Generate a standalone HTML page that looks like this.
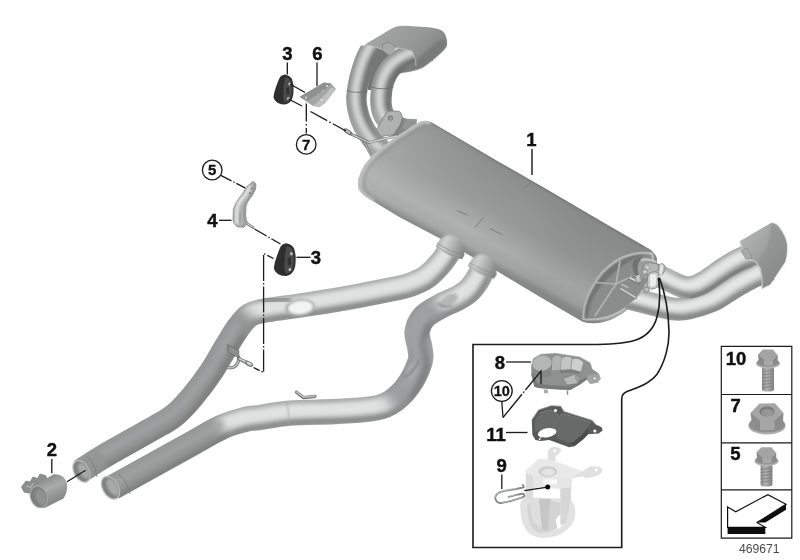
<!DOCTYPE html>
<html><head><meta charset="utf-8"><title>Exhaust system</title>
<style>html,body{margin:0;padding:0;background:#fff}svg{display:block}text{font-family:"Liberation Sans",sans-serif}</style>
</head><body>
<svg width="800" height="560" viewBox="0 0 800 560">
<defs>
<filter id="b1" x="-20%" y="-20%" width="140%" height="140%"><feGaussianBlur stdDeviation="0.8"/></filter>
<filter id="b2" x="-20%" y="-20%" width="140%" height="140%"><feGaussianBlur stdDeviation="2.2"/></filter>
<filter id="soft" x="-2%" y="-2%" width="104%" height="104%"><feGaussianBlur stdDeviation="0.45"/></filter>
<linearGradient id="gMuf" gradientUnits="userSpaceOnUse" x1="425" y1="121" x2="379.4" y2="204.2">
<stop offset="0" stop-color="#878989"/><stop offset="0.1" stop-color="#8d8f8f"/><stop offset="0.5" stop-color="#999b9b"/><stop offset="0.78" stop-color="#b1b3b3"/><stop offset="0.92" stop-color="#a8aaaa"/><stop offset="1" stop-color="#878989"/></linearGradient>
<linearGradient id="gMufL" gradientUnits="userSpaceOnUse" x1="380" y1="150" x2="640" y2="295">
<stop offset="0" stop-color="#b4b6b6" stop-opacity="0.45"/><stop offset="0.35" stop-color="#a0a2a2" stop-opacity="0.1"/><stop offset="0.7" stop-color="#7c7e7e" stop-opacity="0.25"/><stop offset="1" stop-color="#7c7e7e" stop-opacity="0.3"/></linearGradient>
<filter id="b4" x="-10%" y="-10%" width="120%" height="120%"><feGaussianBlur stdDeviation="6"/></filter>
<filter id="b3" x="-30%" y="-30%" width="160%" height="160%"><feGaussianBlur stdDeviation="5"/></filter>
<linearGradient id="gFl" gradientUnits="userSpaceOnUse" x1="235" y1="130" x2="400" y2="205">
<stop offset="0" stop-color="#b4b6b6"/><stop offset="0.25" stop-color="#cfd1d1"/><stop offset="0.6" stop-color="#acaeae"/><stop offset="1" stop-color="#828484"/></linearGradient>
<linearGradient id="gTip" gradientUnits="userSpaceOnUse" x1="385" y1="30" x2="425" y2="70">
<stop offset="0" stop-color="#a2a4a4"/><stop offset="0.6" stop-color="#939595"/><stop offset="1" stop-color="#7f8181"/></linearGradient>
<linearGradient id="gRTip" gradientUnits="userSpaceOnUse" x1="745" y1="235" x2="785" y2="270">
<stop offset="0" stop-color="#b0b2b2"/><stop offset="0.6" stop-color="#9a9c9c"/><stop offset="1" stop-color="#858787"/></linearGradient>
<linearGradient id="gClamp" gradientUnits="userSpaceOnUse" x1="45" y1="478" x2="58" y2="506">
<stop offset="0" stop-color="#8a8c8c"/><stop offset="0.35" stop-color="#a9abab"/><stop offset="1" stop-color="#7a7c7c"/></linearGradient>
<linearGradient id="gShaft" x1="0" y1="0" x2="1" y2="0">
<stop offset="0" stop-color="#8a8a8a"/><stop offset="0.4" stop-color="#b0b0b0"/><stop offset="1" stop-color="#838383"/></linearGradient>
<clipPath id="cTop"><path d="M364.5 45.5 L398 26 L470 26 L470 170 L330 170 L330 45.5Z"/></clipPath>
<mask id="m1" maskUnits="userSpaceOnUse" x="0" y="0" width="800" height="560"><path d="M432.0 50.0 C430.0 50.2 423.8 50.7 420.0 51.5 C416.2 52.3 412.5 53.5 409.0 55.0 C405.5 56.5 402.0 58.4 399.0 60.5 C396.0 62.6 393.2 64.8 391.0 67.5 C388.8 70.2 386.9 73.4 385.5 76.5 C384.1 79.6 383.1 82.6 382.3 86.0 C381.6 89.4 381.2 94.0 381.0 97.0 C380.8 100.0 380.8 101.5 381.0 104.0 C381.2 106.5 381.6 109.5 382.5 112.0 C383.4 114.5 384.8 116.8 386.5 119.0 C388.2 121.2 390.1 123.3 393.0 125.0 C395.9 126.7 400.2 128.2 404.0 129.0 C407.8 129.8 414.0 129.8 416.0 130.0" fill="none" stroke="#fff" stroke-width="21.5" stroke-linecap="butt" stroke-linejoin="round"/></mask>
<mask id="m2" maskUnits="userSpaceOnUse" x="0" y="0" width="800" height="560"><path d="M384.0 30.0 C382.5 32.0 378.0 37.3 375.0 42.0 C372.0 46.7 368.6 52.0 366.0 58.0 C363.4 64.0 361.1 71.7 359.5 78.0 C357.9 84.3 356.9 91.0 356.5 96.0 C356.1 101.0 356.6 103.8 357.3 108.0 C358.1 112.2 359.4 116.9 361.0 121.0 C362.6 125.1 364.8 129.0 367.0 132.5 C369.2 136.0 370.8 138.6 374.0 142.0 C377.2 145.4 384.0 151.2 386.0 153.0" fill="none" stroke="#fff" stroke-width="20.5" stroke-linecap="butt" stroke-linejoin="round"/></mask>
<clipPath id="cm"><path d="M431 122 L500 162.5 L548 190 L600 220.5 L645 246.5 Q654 250 657 258 Q658 270 647 289 Q634 309 612 319.5 Q596 326 583 322 L540 297 L495 270 L440 238.5 L400 217.5 L374 201.8 Q362.5 196 359 190 Q356 182 361 171.5 Q366 160.5 378 150.5 Q391 139.5 408 129 Q418 121.5 424.5 120.8 Q428 120.5 431 122 Z"/></clipPath>
<mask id="m3" maskUnits="userSpaceOnUse" x="0" y="0" width="800" height="560"><path d="M453.5 244.5 C451.6 247.4 446.3 256.4 441.8 261.8 C437.3 267.2 432.1 273.1 426.5 277.0 C420.9 280.9 414.4 283.3 408.0 285.5 C401.6 287.7 398.7 287.8 388.0 290.0 C377.3 292.2 358.7 295.9 344.0 298.5 C329.3 301.1 312.7 303.6 300.0 305.5 C287.3 307.4 276.3 308.4 268.0 310.0 C259.7 311.6 255.0 312.0 250.0 315.0 C245.0 318.0 242.0 322.7 238.0 328.0 C234.0 333.3 230.5 339.7 226.0 347.0 C221.5 354.3 216.5 363.8 211.0 372.0 C205.5 380.2 198.8 389.0 193.0 396.0 C187.2 403.0 181.5 409.2 176.0 414.0 C170.5 418.8 171.7 417.7 160.0 424.5 C148.3 431.3 119.2 447.2 106.0 455.0 C92.8 462.8 84.8 468.5 80.5 471.2" fill="none" stroke="#fff" stroke-width="24.5" stroke-linecap="butt" stroke-linejoin="round"/></mask>
<mask id="m4" maskUnits="userSpaceOnUse" x="0" y="0" width="800" height="560"><path d="M484.5 265.0 C483.6 267.0 481.4 272.9 479.0 277.0 C476.6 281.1 473.5 286.0 470.0 289.5 C466.5 293.0 463.0 295.2 458.0 298.0 C453.0 300.8 445.7 303.3 440.0 306.5 C434.3 309.7 427.8 312.8 424.0 317.0 C420.2 321.2 417.7 326.8 417.0 332.0 C416.3 337.2 419.5 343.5 420.0 348.5 C420.5 353.5 422.0 355.8 420.0 362.0 C418.0 368.2 413.0 379.2 408.0 386.0 C403.0 392.8 396.3 399.2 390.0 403.0 C383.7 406.8 379.2 407.6 370.0 409.0 C360.8 410.4 348.3 410.8 335.0 411.5 C321.7 412.2 302.5 412.2 290.0 413.2 C277.5 414.2 267.5 416.4 260.0 417.5 C252.5 418.6 251.5 417.8 245.0 419.5 C238.5 421.2 230.6 423.1 221.0 427.5 C211.4 431.9 205.6 436.0 187.5 446.0 C169.4 456.0 125.0 480.6 112.5 487.5" fill="none" stroke="#fff" stroke-width="25.3" stroke-linecap="butt" stroke-linejoin="round"/></mask>
<clipPath id="cRL"><path d="M643.5 292 L624.5 308 L624.5 340 L800 340 L800 200 L643.5 200Z"/></clipPath>
<mask id="m5" maskUnits="userSpaceOnUse" x="0" y="0" width="800" height="560"><path d="M618.0 295.3 C621.0 296.1 629.5 298.1 636.0 299.8 C642.5 301.5 650.9 303.8 657.0 305.3 C663.1 306.8 667.9 308.2 672.4 308.8 C676.9 309.4 680.2 309.2 684.0 308.8 C687.8 308.4 690.0 307.8 695.0 306.3 C700.0 304.8 707.5 303.0 714.0 299.8 C720.5 296.6 727.5 291.1 734.0 287.3 C740.5 283.5 747.0 279.8 753.0 276.8 C759.0 273.8 767.2 270.6 770.0 269.3" fill="none" stroke="#fff" stroke-width="23.0" stroke-linecap="butt" stroke-linejoin="round"/></mask>
<mask id="m6" maskUnits="userSpaceOnUse" x="0" y="0" width="800" height="560"><path d="M651.0 273.1 C653.2 273.9 660.3 276.5 664.0 278.1 C667.7 279.7 669.7 281.1 673.0 282.6 C676.3 284.1 680.5 286.4 684.0 287.1 C687.5 287.8 690.7 287.4 694.0 286.6 C697.3 285.8 698.7 285.4 704.0 282.1 C709.3 278.9 719.8 271.0 726.0 267.1 C732.2 263.2 735.0 261.2 741.0 258.6 C747.0 256.0 758.5 252.8 762.0 251.6" fill="none" stroke="#fff" stroke-width="22.5" stroke-linecap="butt" stroke-linejoin="round"/></mask></defs>
<rect width="800" height="560" fill="#fff"/>
<g filter="url(#soft)">
<path d="M372 48 L392 44 L392 58 L381 66 L376.5 90 L367.5 90 L369.4 76Z" fill="#747676"/>
<path d="M404 50 L414 50 L418.5 66.5 L406 68Z" fill="#6c6e6e"/>
<g clip-path="url(#cTop)">
<g mask="url(#m1)"><path d="M432.0 50.0 C430.0 50.2 423.8 50.7 420.0 51.5 C416.2 52.3 412.5 53.5 409.0 55.0 C405.5 56.5 402.0 58.4 399.0 60.5 C396.0 62.6 393.2 64.8 391.0 67.5 C388.8 70.2 386.9 73.4 385.5 76.5 C384.1 79.6 383.1 82.6 382.3 86.0 C381.6 89.4 381.2 94.0 381.0 97.0 C380.8 100.0 380.8 101.5 381.0 104.0 C381.2 106.5 381.6 109.5 382.5 112.0 C383.4 114.5 384.8 116.8 386.5 119.0 C388.2 121.2 390.1 123.3 393.0 125.0 C395.9 126.7 400.2 128.2 404.0 129.0 C407.8 129.8 414.0 129.8 416.0 130.0" fill="none" stroke="#a2a4a4" stroke-width="23.5" stroke-linecap="butt" stroke-linejoin="round"/><g filter="url(#b2)"><path d="M432.0 50.0 C430.0 50.2 423.8 50.7 420.0 51.5 C416.2 52.3 412.5 53.5 409.0 55.0 C405.5 56.5 402.0 58.4 399.0 60.5 C396.0 62.6 393.2 64.8 391.0 67.5 C388.8 70.2 386.9 73.4 385.5 76.5 C384.1 79.6 383.1 82.6 382.3 86.0 C381.6 89.4 381.2 94.0 381.0 97.0 C380.8 100.0 380.8 101.5 381.0 104.0 C381.2 106.5 381.6 109.5 382.5 112.0 C383.4 114.5 384.8 116.8 386.5 119.0 C388.2 121.2 390.1 123.3 393.0 125.0 C395.9 126.7 400.2 128.2 404.0 129.0 C407.8 129.8 414.0 129.8 416.0 130.0" fill="none" stroke="#727474" stroke-width="10.3" transform="translate(6.19 4.64)" stroke-linejoin="round"/><path d="M432.0 50.0 C430.0 50.2 423.8 50.7 420.0 51.5 C416.2 52.3 412.5 53.5 409.0 55.0 C405.5 56.5 402.0 58.4 399.0 60.5 C396.0 62.6 393.2 64.8 391.0 67.5 C388.8 70.2 386.9 73.4 385.5 76.5 C384.1 79.6 383.1 82.6 382.3 86.0 C381.6 89.4 381.2 94.0 381.0 97.0 C380.8 100.0 380.8 101.5 381.0 104.0 C381.2 106.5 381.6 109.5 382.5 112.0 C383.4 114.5 384.8 116.8 386.5 119.0 C388.2 121.2 390.1 123.3 393.0 125.0 C395.9 126.7 400.2 128.2 404.0 129.0 C407.8 129.8 414.0 129.8 416.0 130.0" fill="none" stroke="#8a8c8c" stroke-width="4.7" transform="translate(-8.60 -6.45)" stroke-linejoin="round"/><path d="M432.0 50.0 C430.0 50.2 423.8 50.7 420.0 51.5 C416.2 52.3 412.5 53.5 409.0 55.0 C405.5 56.5 402.0 58.4 399.0 60.5 C396.0 62.6 393.2 64.8 391.0 67.5 C388.8 70.2 386.9 73.4 385.5 76.5 C384.1 79.6 383.1 82.6 382.3 86.0 C381.6 89.4 381.2 94.0 381.0 97.0 C380.8 100.0 380.8 101.5 381.0 104.0 C381.2 106.5 381.6 109.5 382.5 112.0 C383.4 114.5 384.8 116.8 386.5 119.0 C388.2 121.2 390.1 123.3 393.0 125.0 C395.9 126.7 400.2 128.2 404.0 129.0 C407.8 129.8 414.0 129.8 416.0 130.0" fill="none" stroke="#d4d6d6" stroke-width="7.7" transform="translate(-1.38 -1.03)" stroke-linejoin="round"/></g><g filter="url(#b4)"><path d="M386.5 119.0 C387.6 120.0 390.1 123.3 393.0 125.0 C395.9 126.7 400.2 128.2 404.0 129.0 C407.8 129.8 411.3 129.6 416.0 130.0 C420.7 130.4 429.3 131.1 431.9 131.3" fill="none" stroke="#8c8e8e" stroke-width="27.9" opacity="0.90" stroke-linecap="butt"/></g><g filter="url(#b2)"><path d="M393.0 125.0 C394.8 125.7 402.2 128.3 404.0 129.0" fill="none" stroke="#a2a4a4" stroke-width="6.5" opacity="0.72" stroke-linecap="round" transform="translate(-2.06 -1.55)"/><path d="M393.0 125.0 C394.8 125.7 402.2 128.3 404.0 129.0" fill="none" stroke="#787a7a" stroke-width="5.4" opacity="0.72" stroke-linecap="round" transform="translate(7.74 5.81)"/></g></g>
<g mask="url(#m2)"><path d="M384.0 30.0 C382.5 32.0 378.0 37.3 375.0 42.0 C372.0 46.7 368.6 52.0 366.0 58.0 C363.4 64.0 361.1 71.7 359.5 78.0 C357.9 84.3 356.9 91.0 356.5 96.0 C356.1 101.0 356.6 103.8 357.3 108.0 C358.1 112.2 359.4 116.9 361.0 121.0 C362.6 125.1 364.8 129.0 367.0 132.5 C369.2 136.0 370.8 138.6 374.0 142.0 C377.2 145.4 384.0 151.2 386.0 153.0" fill="none" stroke="#a2a4a4" stroke-width="22.5" stroke-linecap="butt" stroke-linejoin="round"/><g filter="url(#b2)"><path d="M384.0 30.0 C382.5 32.0 378.0 37.3 375.0 42.0 C372.0 46.7 368.6 52.0 366.0 58.0 C363.4 64.0 361.1 71.7 359.5 78.0 C357.9 84.3 356.9 91.0 356.5 96.0 C356.1 101.0 356.6 103.8 357.3 108.0 C358.1 112.2 359.4 116.9 361.0 121.0 C362.6 125.1 364.8 129.0 367.0 132.5 C369.2 136.0 370.8 138.6 374.0 142.0 C377.2 145.4 384.0 151.2 386.0 153.0" fill="none" stroke="#727474" stroke-width="9.8" transform="translate(5.90 4.43)" stroke-linejoin="round"/><path d="M384.0 30.0 C382.5 32.0 378.0 37.3 375.0 42.0 C372.0 46.7 368.6 52.0 366.0 58.0 C363.4 64.0 361.1 71.7 359.5 78.0 C357.9 84.3 356.9 91.0 356.5 96.0 C356.1 101.0 356.6 103.8 357.3 108.0 C358.1 112.2 359.4 116.9 361.0 121.0 C362.6 125.1 364.8 129.0 367.0 132.5 C369.2 136.0 370.8 138.6 374.0 142.0 C377.2 145.4 384.0 151.2 386.0 153.0" fill="none" stroke="#8a8c8c" stroke-width="4.5" transform="translate(-8.20 -6.15)" stroke-linejoin="round"/><path d="M384.0 30.0 C382.5 32.0 378.0 37.3 375.0 42.0 C372.0 46.7 368.6 52.0 366.0 58.0 C363.4 64.0 361.1 71.7 359.5 78.0 C357.9 84.3 356.9 91.0 356.5 96.0 C356.1 101.0 356.6 103.8 357.3 108.0 C358.1 112.2 359.4 116.9 361.0 121.0 C362.6 125.1 364.8 129.0 367.0 132.5 C369.2 136.0 370.8 138.6 374.0 142.0 C377.2 145.4 384.0 151.2 386.0 153.0" fill="none" stroke="#d4d6d6" stroke-width="7.4" transform="translate(-1.31 -0.98)" stroke-linejoin="round"/></g></g>
</g>
<path d="M392.5 80 Q394 74 399 69 Q406 63 416 58 L418.5 66.5 L412 71 L403 72.5 Q397 74 394.5 80Z" fill="#6e7070"/>
<path d="M346.8 90.5 Q356 94 367 91" stroke="#6a6c6c" stroke-width="0.8" fill="none"/>
<path d="M371.4 87 Q382 90.5 393.5 87" stroke="#6a6c6c" stroke-width="0.8" fill="none"/>
<path d="M365.0 44.5 C367.7 42.9 375.6 38.0 381.0 35.0 C386.4 32.0 391.7 27.7 397.5 26.3 C403.3 24.9 409.8 26.2 416.0 26.5 C422.2 26.8 430.4 27.3 435.0 28.2 C439.6 29.1 441.6 30.2 443.5 32.0 C445.4 33.8 446.1 36.4 446.5 39.0 C446.9 41.6 447.9 44.3 446.0 47.5 C444.1 50.7 438.9 54.7 435.0 58.0 C431.1 61.3 426.3 65.3 422.5 67.5 C418.7 69.7 415.2 70.2 412.0 71.0 C408.8 71.8 404.5 72.2 403.0 72.5 L415.8 60.8 L412.0 51.0 L404.0 49.0 L396.5 47.6 L391.0 53.8 L387.8 53.8 L382.5 49.4 L372.0 46.0Z" fill="url(#gTip)"/>
<path d="M446.5 39 Q446.5 47 435 58 L422.5 67.5 L403 72.5 L405 66 L416 60 L438 41 Z" fill="#777979" opacity="0.9" filter="url(#b1)"/>
<path d="M382.5 49.4 L382.5 44 L389.5 42.4 L396.5 47.6 L391 53.75 L387.75 53.75Z" fill="#a7a9a9" stroke="#7a7c7c" stroke-width="0.6"/>
<path d="M365 44.5 L372 46 L382.5 49.4 L387.75 53.75 L391 53.75 L396.5 47.6 L404 49 L412 51 L415.75 60.75 L416 66" fill="none" stroke="#bcbebe" stroke-width="0.9"/>
<path d="M376.4 130 L386.5 112.5 Q388 111 390 111 L399 111.2 Q401.5 112 402.6 117.6 L400 125 L393.5 134.5 L381 136.5 Z" fill="#b0b2b2" stroke="#7b7d7d" stroke-width="0.8"/>
<path d="M393.5 134.5 L400 125 L402.6 117.6 L405 119 L403 127 L396 137 Z" fill="#838585"/>
<circle cx="390.5" cy="118" r="2.6" fill="#7a7c7c"/><circle cx="390.8" cy="118.3" r="1.6" fill="#9c9e9e"/>
<path d="M362 138 L372 157" fill="none" stroke="#6e7070" stroke-width="2.4"/><path d="M362 138 L372 157" fill="none" stroke="#c8caca" stroke-width="1"/>
<path d="M346.5 131 L352 134.5 L369 142.5 L390 137.5 L397 136" fill="none" stroke="#666868" stroke-width="2.8" stroke-linejoin="round" stroke-linecap="round"/>
<path d="M346.5 131 L352 134.5 L369 142.5 L390 137.5 L397 136" fill="none" stroke="#d4d6d6" stroke-width="1.3" stroke-linejoin="round" stroke-linecap="round"/>
<path d="M345.5 130.3 L350 133.2" stroke="#666868" stroke-width="4" stroke-linecap="round"/><path d="M345.8 130.3 L349.6 132.8" stroke="#c4c6c6" stroke-width="2" stroke-linecap="round"/>
<g clip-path="url(#cm)"><path d="M431 122 L500 162.5 L548 190 L600 220.5 L645 246.5 Q654 250 657 258 Q658 270 647 289 Q634 309 612 319.5 Q596 326 583 322 L540 297 L495 270 L440 238.5 L400 217.5 L374 201.8 Q362.5 196 359 190 Q356 182 361 171.5 Q366 160.5 378 150.5 Q391 139.5 408 129 Q418 121.5 424.5 120.8 Q428 120.5 431 122 Z" fill="url(#gMuf)"/>
<path d="M431 122 L500 162.5 L548 190 L600 220.5 L645 246.5 Q654 250 657 258 Q658 270 647 289 Q634 309 612 319.5 Q596 326 583 322 L540 297 L495 270 L440 238.5 L400 217.5 L374 201.8 Q362.5 196 359 190 Q356 182 361 171.5 Q366 160.5 378 150.5 Q391 139.5 408 129 Q418 121.5 424.5 120.8 Q428 120.5 431 122 Z" fill="url(#gMufL)"/>
<path d="M431 122 Q428 120.5 424.5 120.8 Q418 121.5 408 129 Q391 139.5 378 150.5 Q366 160.5 361 171.5 Q356 182 359 190 Q362.5 196 374 201.8" fill="none" stroke="#bfc1c1" stroke-width="6" filter="url(#b1)"/>
<path d="M434 125 Q424 125 414 132 Q396 143 382 154.5 Q371 163.5 366.5 173 Q362.5 183 365 190 Q368.5 195.5 378 200" fill="none" stroke="#858787" stroke-width="1.1" opacity="0.75" filter="url(#b1)"/>
<path d="M432 122 L500 162.5 L548 190 L600 220.5 L645 246.5" fill="none" stroke="#747676" stroke-width="2.6" filter="url(#b1)"/>
<path d="M374 201.8 L400 217.5 L440 238.5 L495 270 L540 297 L584 321.5" fill="none" stroke="#868888" stroke-width="3.5" filter="url(#b2)"/>
<path d="M582.5 320 Q581 298 601.5 271.5 Q624 248 653 252.5 Q659 275 637 301 Q612 324 582.5 320 Z" fill="#b9bbbb"/>
<path d="M584.8 318.3 Q584 298 603.5 273.5 Q625 251.5 651 255 Q655.5 275 635 299 Q611 321 584.8 318.3 Z" fill="#8b8d8d"/>
<path d="M584.8 318.3 Q584 298 603.5 273.5 Q625 251.5 651 255 Q640 256 628 262 Q606 276 594 296 Q588 308 588 318 Z" fill="#717373" filter="url(#b1)"/>
<path d="M594.7 316.2 L616 284 L620 261" fill="none" stroke="#b0b2b2" stroke-width="1.8"/>
<path d="M595.6 282.5 L616 284 L632 276" fill="none" stroke="#b0b2b2" stroke-width="1.6"/>
</g>
<g stroke="#7c7e7e" stroke-width="1" fill="none"><path d="M457 210.7 L467.7 215.2"/><path d="M474.8 227.7 L483.7 217"/><path d="M490 228.6 L502.5 234.8"/><path d="M524.8 187.5 L531 183"/></g>
<g mask="url(#m3)"><path d="M453.5 244.5 C451.6 247.4 446.3 256.4 441.8 261.8 C437.3 267.2 432.1 273.1 426.5 277.0 C420.9 280.9 414.4 283.3 408.0 285.5 C401.6 287.7 398.7 287.8 388.0 290.0 C377.3 292.2 358.7 295.9 344.0 298.5 C329.3 301.1 312.7 303.6 300.0 305.5 C287.3 307.4 276.3 308.4 268.0 310.0 C259.7 311.6 255.0 312.0 250.0 315.0 C245.0 318.0 242.0 322.7 238.0 328.0 C234.0 333.3 230.5 339.7 226.0 347.0 C221.5 354.3 216.5 363.8 211.0 372.0 C205.5 380.2 198.8 389.0 193.0 396.0 C187.2 403.0 181.5 409.2 176.0 414.0 C170.5 418.8 171.7 417.7 160.0 424.5 C148.3 431.3 119.2 447.2 106.0 455.0 C92.8 462.8 84.8 468.5 80.5 471.2" fill="none" stroke="#c4c6c6" stroke-width="26.5" stroke-linecap="butt" stroke-linejoin="round"/><g filter="url(#b2)"><path d="M453.5 244.5 C451.6 247.4 446.3 256.4 441.8 261.8 C437.3 267.2 432.1 273.1 426.5 277.0 C420.9 280.9 414.4 283.3 408.0 285.5 C401.6 287.7 398.7 287.8 388.0 290.0 C377.3 292.2 358.7 295.9 344.0 298.5 C329.3 301.1 312.7 303.6 300.0 305.5 C287.3 307.4 276.3 308.4 268.0 310.0 C259.7 311.6 255.0 312.0 250.0 315.0 C245.0 318.0 242.0 322.7 238.0 328.0 C234.0 333.3 230.5 339.7 226.0 347.0 C221.5 354.3 216.5 363.8 211.0 372.0 C205.5 380.2 198.8 389.0 193.0 396.0 C187.2 403.0 181.5 409.2 176.0 414.0 C170.5 418.8 171.7 417.7 160.0 424.5 C148.3 431.3 119.2 447.2 106.0 455.0 C92.8 462.8 84.8 468.5 80.5 471.2" fill="none" stroke="#8a8c8c" stroke-width="7.8" transform="translate(4.63 9.26)" stroke-linejoin="round"/><path d="M453.5 244.5 C451.6 247.4 446.3 256.4 441.8 261.8 C437.3 267.2 432.1 273.1 426.5 277.0 C420.9 280.9 414.4 283.3 408.0 285.5 C401.6 287.7 398.7 287.8 388.0 290.0 C377.3 292.2 358.7 295.9 344.0 298.5 C329.3 301.1 312.7 303.6 300.0 305.5 C287.3 307.4 276.3 308.4 268.0 310.0 C259.7 311.6 255.0 312.0 250.0 315.0 C245.0 318.0 242.0 322.7 238.0 328.0 C234.0 333.3 230.5 339.7 226.0 347.0 C221.5 354.3 216.5 363.8 211.0 372.0 C205.5 380.2 198.8 389.0 193.0 396.0 C187.2 403.0 181.5 409.2 176.0 414.0 C170.5 418.8 171.7 417.7 160.0 424.5 C148.3 431.3 119.2 447.2 106.0 455.0 C92.8 462.8 84.8 468.5 80.5 471.2" fill="none" stroke="#a4a6a6" stroke-width="5.4" transform="translate(-5.51 -11.03)" stroke-linejoin="round"/><path d="M453.5 244.5 C451.6 247.4 446.3 256.4 441.8 261.8 C437.3 267.2 432.1 273.1 426.5 277.0 C420.9 280.9 414.4 283.3 408.0 285.5 C401.6 287.7 398.7 287.8 388.0 290.0 C377.3 292.2 358.7 295.9 344.0 298.5 C329.3 301.1 312.7 303.6 300.0 305.5 C287.3 307.4 276.3 308.4 268.0 310.0 C259.7 311.6 255.0 312.0 250.0 315.0 C245.0 318.0 242.0 322.7 238.0 328.0 C234.0 333.3 230.5 339.7 226.0 347.0 C221.5 354.3 216.5 363.8 211.0 372.0 C205.5 380.2 198.8 389.0 193.0 396.0 C187.2 403.0 181.5 409.2 176.0 414.0 C170.5 418.8 171.7 417.7 160.0 424.5 C148.3 431.3 119.2 447.2 106.0 455.0 C92.8 462.8 84.8 468.5 80.5 471.2" fill="none" stroke="#e0e2e2" stroke-width="12.2" transform="translate(-1.10 -2.21)" stroke-linejoin="round"/></g><g filter="url(#b4)"><path d="M250.0 315.0 C248.0 317.2 242.0 322.7 238.0 328.0 C234.0 333.3 230.5 339.7 226.0 347.0 C221.5 354.3 216.5 363.8 211.0 372.0 C205.5 380.2 198.8 389.0 193.0 396.0 C187.2 403.0 181.5 409.2 176.0 414.0 C170.5 418.8 171.7 417.7 160.0 424.5 C148.3 431.3 119.2 447.2 106.0 455.0 C92.8 462.8 87.0 467.1 80.5 471.2 C74.0 475.3 69.2 478.3 67.0 479.8" fill="none" stroke="#8c8e8e" stroke-width="31.9" opacity="0.92" stroke-linecap="butt"/></g><g filter="url(#b2)"><path d="M238.0 328.0 C236.0 331.2 230.5 339.7 226.0 347.0 C221.5 354.3 216.5 363.8 211.0 372.0 C205.5 380.2 198.8 389.0 193.0 396.0 C187.2 403.0 181.5 409.2 176.0 414.0 C170.5 418.8 171.7 417.7 160.0 424.5 C148.3 431.3 115.0 449.9 106.0 455.0" fill="none" stroke="#a2a4a4" stroke-width="7.3" opacity="0.74" stroke-linecap="round" transform="translate(-1.32 -2.65)"/><path d="M238.0 328.0 C236.0 331.2 230.5 339.7 226.0 347.0 C221.5 354.3 216.5 363.8 211.0 372.0 C205.5 380.2 198.8 389.0 193.0 396.0 C187.2 403.0 181.5 409.2 176.0 414.0 C170.5 418.8 171.7 417.7 160.0 424.5 C148.3 431.3 115.0 449.9 106.0 455.0" fill="none" stroke="#787a7a" stroke-width="6.1" opacity="0.74" stroke-linecap="round" transform="translate(4.96 9.92)"/></g><path d="M262 301 Q276 298 291 299.5" fill="none" stroke="#8e9090" stroke-width="9" filter="url(#b2)" opacity="0.9"/><ellipse cx="300" cy="307.5" rx="15" ry="8.5" fill="#a9abab" transform="rotate(-6 300 307.5)" filter="url(#b1)"/><ellipse cx="300.5" cy="307.5" rx="12.5" ry="6.8" fill="#f2f3f3" transform="rotate(-6 300 307.5)" filter="url(#b1)"/></g>
<g transform="translate(400 220) scale(0.16064) translate(0 0)"><path d="M222 168 Q230 140 250 120 Q275 95 310 90 Q345 92 368 120 Q392 160 402 218 L386 244 Q300 232 222 168Z" fill="url(#gFl)"/><path d="M250 120 Q275 95 310 90 Q345 92 368 120" fill="none" stroke="#a9abab" stroke-width="10" filter="url(#b3)"/><path d="M234 148 Q300 190 397 222" fill="none" stroke="#7f8181" stroke-width="4"/><path d="M226 162 Q300 215 389 240" fill="none" stroke="#8a8c8c" stroke-width="4"/></g>
<g mask="url(#m4)"><path d="M484.5 265.0 C483.6 267.0 481.4 272.9 479.0 277.0 C476.6 281.1 473.5 286.0 470.0 289.5 C466.5 293.0 463.0 295.2 458.0 298.0 C453.0 300.8 445.7 303.3 440.0 306.5 C434.3 309.7 427.8 312.8 424.0 317.0 C420.2 321.2 417.7 326.8 417.0 332.0 C416.3 337.2 419.5 343.5 420.0 348.5 C420.5 353.5 422.0 355.8 420.0 362.0 C418.0 368.2 413.0 379.2 408.0 386.0 C403.0 392.8 396.3 399.2 390.0 403.0 C383.7 406.8 379.2 407.6 370.0 409.0 C360.8 410.4 348.3 410.8 335.0 411.5 C321.7 412.2 302.5 412.2 290.0 413.2 C277.5 414.2 267.5 416.4 260.0 417.5 C252.5 418.6 251.5 417.8 245.0 419.5 C238.5 421.2 230.6 423.1 221.0 427.5 C211.4 431.9 205.6 436.0 187.5 446.0 C169.4 456.0 125.0 480.6 112.5 487.5" fill="none" stroke="#c4c6c6" stroke-width="27.3" stroke-linecap="butt" stroke-linejoin="round"/><g filter="url(#b2)"><path d="M484.5 265.0 C483.6 267.0 481.4 272.9 479.0 277.0 C476.6 281.1 473.5 286.0 470.0 289.5 C466.5 293.0 463.0 295.2 458.0 298.0 C453.0 300.8 445.7 303.3 440.0 306.5 C434.3 309.7 427.8 312.8 424.0 317.0 C420.2 321.2 417.7 326.8 417.0 332.0 C416.3 337.2 419.5 343.5 420.0 348.5 C420.5 353.5 422.0 355.8 420.0 362.0 C418.0 368.2 413.0 379.2 408.0 386.0 C403.0 392.8 396.3 399.2 390.0 403.0 C383.7 406.8 379.2 407.6 370.0 409.0 C360.8 410.4 348.3 410.8 335.0 411.5 C321.7 412.2 302.5 412.2 290.0 413.2 C277.5 414.2 267.5 416.4 260.0 417.5 C252.5 418.6 251.5 417.8 245.0 419.5 C238.5 421.2 230.6 423.1 221.0 427.5 C211.4 431.9 205.6 436.0 187.5 446.0 C169.4 456.0 125.0 480.6 112.5 487.5" fill="none" stroke="#8a8c8c" stroke-width="8.1" transform="translate(4.78 9.56)" stroke-linejoin="round"/><path d="M484.5 265.0 C483.6 267.0 481.4 272.9 479.0 277.0 C476.6 281.1 473.5 286.0 470.0 289.5 C466.5 293.0 463.0 295.2 458.0 298.0 C453.0 300.8 445.7 303.3 440.0 306.5 C434.3 309.7 427.8 312.8 424.0 317.0 C420.2 321.2 417.7 326.8 417.0 332.0 C416.3 337.2 419.5 343.5 420.0 348.5 C420.5 353.5 422.0 355.8 420.0 362.0 C418.0 368.2 413.0 379.2 408.0 386.0 C403.0 392.8 396.3 399.2 390.0 403.0 C383.7 406.8 379.2 407.6 370.0 409.0 C360.8 410.4 348.3 410.8 335.0 411.5 C321.7 412.2 302.5 412.2 290.0 413.2 C277.5 414.2 267.5 416.4 260.0 417.5 C252.5 418.6 251.5 417.8 245.0 419.5 C238.5 421.2 230.6 423.1 221.0 427.5 C211.4 431.9 205.6 436.0 187.5 446.0 C169.4 456.0 125.0 480.6 112.5 487.5" fill="none" stroke="#a4a6a6" stroke-width="5.6" transform="translate(-5.69 -11.38)" stroke-linejoin="round"/><path d="M484.5 265.0 C483.6 267.0 481.4 272.9 479.0 277.0 C476.6 281.1 473.5 286.0 470.0 289.5 C466.5 293.0 463.0 295.2 458.0 298.0 C453.0 300.8 445.7 303.3 440.0 306.5 C434.3 309.7 427.8 312.8 424.0 317.0 C420.2 321.2 417.7 326.8 417.0 332.0 C416.3 337.2 419.5 343.5 420.0 348.5 C420.5 353.5 422.0 355.8 420.0 362.0 C418.0 368.2 413.0 379.2 408.0 386.0 C403.0 392.8 396.3 399.2 390.0 403.0 C383.7 406.8 379.2 407.6 370.0 409.0 C360.8 410.4 348.3 410.8 335.0 411.5 C321.7 412.2 302.5 412.2 290.0 413.2 C277.5 414.2 267.5 416.4 260.0 417.5 C252.5 418.6 251.5 417.8 245.0 419.5 C238.5 421.2 230.6 423.1 221.0 427.5 C211.4 431.9 205.6 436.0 187.5 446.0 C169.4 456.0 125.0 480.6 112.5 487.5" fill="none" stroke="#e0e2e2" stroke-width="12.7" transform="translate(-1.14 -2.28)" stroke-linejoin="round"/></g><g filter="url(#b4)"><path d="M440.0 306.5 C437.3 308.2 427.8 312.8 424.0 317.0 C420.2 321.2 417.7 326.8 417.0 332.0 C416.3 337.2 419.5 343.5 420.0 348.5 C420.5 353.5 422.0 355.8 420.0 362.0 C418.0 368.2 413.0 379.2 408.0 386.0 C403.0 392.8 393.0 400.2 390.0 403.0" fill="none" stroke="#8c8e8e" stroke-width="32.9" opacity="0.80" stroke-linecap="butt"/><path d="M221.0 427.5 C215.4 430.6 205.6 436.0 187.5 446.0 C169.4 456.0 127.3 479.3 112.5 487.5 C97.7 495.7 100.8 494.0 98.5 495.2" fill="none" stroke="#8c8e8e" stroke-width="32.9" opacity="0.90" stroke-linecap="butt"/></g><g filter="url(#b2)"><path d="M424.0 317.0 C422.8 319.5 417.7 326.8 417.0 332.0 C416.3 337.2 419.5 343.5 420.0 348.5 C420.5 353.5 422.0 355.8 420.0 362.0 C418.0 368.2 410.0 382.0 408.0 386.0" fill="none" stroke="#a2a4a4" stroke-width="7.6" opacity="0.64" stroke-linecap="round" transform="translate(-1.37 -2.73)"/><path d="M424.0 317.0 C422.8 319.5 417.7 326.8 417.0 332.0 C416.3 337.2 419.5 343.5 420.0 348.5 C420.5 353.5 422.0 355.8 420.0 362.0 C418.0 368.2 410.0 382.0 408.0 386.0" fill="none" stroke="#787a7a" stroke-width="6.3" opacity="0.64" stroke-linecap="round" transform="translate(5.12 10.25)"/><path d="M221.0 427.5 C215.4 430.6 205.6 436.0 187.5 446.0 C169.4 456.0 125.0 480.6 112.5 487.5" fill="none" stroke="#a2a4a4" stroke-width="7.6" opacity="0.72" stroke-linecap="round" transform="translate(-1.37 -2.73)"/><path d="M221.0 427.5 C215.4 430.6 205.6 436.0 187.5 446.0 C169.4 456.0 125.0 480.6 112.5 487.5" fill="none" stroke="#787a7a" stroke-width="6.3" opacity="0.72" stroke-linecap="round" transform="translate(5.12 10.25)"/></g><ellipse cx="449" cy="300.5" rx="10" ry="5.5" fill="#b6b8b8" transform="rotate(-33 449 300.5)" filter="url(#b1)"/><path d="M438 303 Q444 309 452 306" fill="none" stroke="#787a7a" stroke-width="1.2" filter="url(#b1)"/><ellipse cx="412" cy="371" rx="5" ry="9" fill="#a8aaaa" transform="rotate(25 412 371)" filter="url(#b1)"/><path d="M404 378 Q414 372 419 360" fill="none" stroke="#767878" stroke-width="1.4" filter="url(#b1)"/><path d="M286.500 401.8 Q290 413 289 425.500" fill="none" stroke="#a2a4a4" stroke-width="1" filter="url(#b1)"/></g>
<g transform="translate(400 220) scale(0.16064) translate(200 120)"><path d="M222 168 Q230 140 250 120 Q275 95 310 90 Q345 92 368 120 Q392 160 402 218 L386 244 Q300 232 222 168Z" fill="url(#gFl)"/><path d="M250 120 Q275 95 310 90 Q345 92 368 120" fill="none" stroke="#a9abab" stroke-width="10" filter="url(#b3)"/><path d="M234 148 Q300 190 397 222" fill="none" stroke="#7f8181" stroke-width="4"/><path d="M226 162 Q300 215 389 240" fill="none" stroke="#8a8c8c" stroke-width="4"/></g>
<g transform="translate(81.5 471.4) rotate(-30.0)"><ellipse rx="8.0" ry="12.3" fill="#b9bbbb"/><ellipse rx="6.7" ry="10.9" fill="#7f8181"/><ellipse cx="2.2" cy="0.5" rx="4.4" ry="8.8" fill="#a8aaaa" filter="url(#b1)"/></g>
<g transform="translate(110.5 487.8) rotate(-30.0)"><ellipse rx="8.4" ry="12.9" fill="#b9bbbb"/><ellipse rx="7.1" ry="11.5" fill="#7f8181"/><ellipse cx="2.2" cy="0.5" rx="4.8" ry="9.4" fill="#a8aaaa" filter="url(#b1)"/></g>
<path d="M86 456 Q95 462 97 477" fill="none" stroke="#7a7c7c" stroke-width="0.8"/>
<path d="M118 474 Q127 480 130 494" fill="none" stroke="#7a7c7c" stroke-width="0.8"/>
<g clip-path="url(#cRL)"><g mask="url(#m5)"><path d="M618.0 295.3 C621.0 296.1 629.5 298.1 636.0 299.8 C642.5 301.5 650.9 303.8 657.0 305.3 C663.1 306.8 667.9 308.2 672.4 308.8 C676.9 309.4 680.2 309.2 684.0 308.8 C687.8 308.4 690.0 307.8 695.0 306.3 C700.0 304.8 707.5 303.0 714.0 299.8 C720.5 296.6 727.5 291.1 734.0 287.3 C740.5 283.5 747.0 279.8 753.0 276.8 C759.0 273.8 767.2 270.6 770.0 269.3" fill="none" stroke="#bcbebe" stroke-width="25.0" stroke-linecap="butt" stroke-linejoin="round"/><g filter="url(#b2)"><path d="M618.0 295.3 C621.0 296.1 629.5 298.1 636.0 299.8 C642.5 301.5 650.9 303.8 657.0 305.3 C663.1 306.8 667.9 308.2 672.4 308.8 C676.9 309.4 680.2 309.2 684.0 308.8 C687.8 308.4 690.0 307.8 695.0 306.3 C700.0 304.8 707.5 303.0 714.0 299.8 C720.5 296.6 727.5 291.1 734.0 287.3 C740.5 283.5 747.0 279.8 753.0 276.8 C759.0 273.8 767.2 270.6 770.0 269.3" fill="none" stroke="#858787" stroke-width="7.8" transform="translate(4.35 8.69)" stroke-linejoin="round"/><path d="M618.0 295.3 C621.0 296.1 629.5 298.1 636.0 299.8 C642.5 301.5 650.9 303.8 657.0 305.3 C663.1 306.8 667.9 308.2 672.4 308.8 C676.9 309.4 680.2 309.2 684.0 308.8 C687.8 308.4 690.0 307.8 695.0 306.3 C700.0 304.8 707.5 303.0 714.0 299.8 C720.5 296.6 727.5 291.1 734.0 287.3 C740.5 283.5 747.0 279.8 753.0 276.8 C759.0 273.8 767.2 270.6 770.0 269.3" fill="none" stroke="#9c9e9e" stroke-width="5.1" transform="translate(-5.17 -10.35)" stroke-linejoin="round"/><path d="M618.0 295.3 C621.0 296.1 629.5 298.1 636.0 299.8 C642.5 301.5 650.9 303.8 657.0 305.3 C663.1 306.8 667.9 308.2 672.4 308.8 C676.9 309.4 680.2 309.2 684.0 308.8 C687.8 308.4 690.0 307.8 695.0 306.3 C700.0 304.8 707.5 303.0 714.0 299.8 C720.5 296.6 727.5 291.1 734.0 287.3 C740.5 283.5 747.0 279.8 753.0 276.8 C759.0 273.8 767.2 270.6 770.0 269.3" fill="none" stroke="#e4e6e6" stroke-width="10.6" transform="translate(-1.03 -2.07)" stroke-linejoin="round"/></g></g></g>
<g mask="url(#m6)"><path d="M651.0 273.1 C653.2 273.9 660.3 276.5 664.0 278.1 C667.7 279.7 669.7 281.1 673.0 282.6 C676.3 284.1 680.5 286.4 684.0 287.1 C687.5 287.8 690.7 287.4 694.0 286.6 C697.3 285.8 698.7 285.4 704.0 282.1 C709.3 278.9 719.8 271.0 726.0 267.1 C732.2 263.2 735.0 261.2 741.0 258.6 C747.0 256.0 758.5 252.8 762.0 251.6" fill="none" stroke="#bcbebe" stroke-width="24.5" stroke-linecap="butt" stroke-linejoin="round"/><g filter="url(#b2)"><path d="M651.0 273.1 C653.2 273.9 660.3 276.5 664.0 278.1 C667.7 279.7 669.7 281.1 673.0 282.6 C676.3 284.1 680.5 286.4 684.0 287.1 C687.5 287.8 690.7 287.4 694.0 286.6 C697.3 285.8 698.7 285.4 704.0 282.1 C709.3 278.9 719.8 271.0 726.0 267.1 C732.2 263.2 735.0 261.2 741.0 258.6 C747.0 256.0 758.5 252.8 762.0 251.6" fill="none" stroke="#858787" stroke-width="7.7" transform="translate(4.25 8.50)" stroke-linejoin="round"/><path d="M651.0 273.1 C653.2 273.9 660.3 276.5 664.0 278.1 C667.7 279.7 669.7 281.1 673.0 282.6 C676.3 284.1 680.5 286.4 684.0 287.1 C687.5 287.8 690.7 287.4 694.0 286.6 C697.3 285.8 698.7 285.4 704.0 282.1 C709.3 278.9 719.8 271.0 726.0 267.1 C732.2 263.2 735.0 261.2 741.0 258.6 C747.0 256.0 758.5 252.8 762.0 251.6" fill="none" stroke="#9c9e9e" stroke-width="5.0" transform="translate(-5.06 -10.12)" stroke-linejoin="round"/><path d="M651.0 273.1 C653.2 273.9 660.3 276.5 664.0 278.1 C667.7 279.7 669.7 281.1 673.0 282.6 C676.3 284.1 680.5 286.4 684.0 287.1 C687.5 287.8 690.7 287.4 694.0 286.6 C697.3 285.8 698.7 285.4 704.0 282.1 C709.3 278.9 719.8 271.0 726.0 267.1 C732.2 263.2 735.0 261.2 741.0 258.6 C747.0 256.0 758.5 252.8 762.0 251.6" fill="none" stroke="#e4e6e6" stroke-width="10.3" transform="translate(-1.01 -2.02)" stroke-linejoin="round"/></g></g>
<path d="M690 297.5 Q705 293 722 281 Q738 270 752 266" fill="none" stroke="#6e7070" stroke-width="1.4" filter="url(#b1)"/>
<path d="M740 241 L771 223 Q776 223 778.5 226.5 Q786 236 787 245 Q787.5 254 785 262 L770 284.5 L762 288.5 Q763 278 760 268 L756 262 L745 257 Z" fill="url(#gRTip)"/>
<path d="M771 223 Q776 223 778.5 226.5 Q786 236 787 245 Q787.5 254 785 262 L770 284.5 L762 288.5 Q764 270 756 262 Q770 250 771 223Z" fill="#8b8d8d" opacity="0.55" filter="url(#b1)"/>
<path d="M740 241 L745 257 L756 262 L760 268 Q763 278 762 288.5" fill="none" stroke="#c6c8c8" stroke-width="1.2"/>
<path d="M741 251 L747 248 L752 258 L746 259Z" fill="#a8aaaa" stroke="#7c7e7e" stroke-width="0.5"/>
<g transform="translate(615 245) scale(0.1)">
<path d="M175 175 Q200 120 290 120 L420 165 L400 330 L230 330 Q160 260 175 175Z" fill="#9d9f9f"/>
<path d="M175 175 Q200 120 290 120 Q230 150 225 230 Q225 290 250 330 L230 330 Q160 260 175 175Z" fill="#6f7171"/>
<path d="M260 150 Q330 130 410 170" fill="none" stroke="#c2c4c4" stroke-width="22" filter="url(#b3)"/>
<path d="M430 200 L470 185 Q510 200 500 250 L470 300 L430 290Z" fill="#b9bbbb" stroke="#666868" stroke-width="6"/>
<path d="M455 190 L485 205 L470 300 L440 292Z" fill="#e2e4e4"/>
<path d="M280 200 L330 175 L420 185 L440 230 L400 280 L330 300 L285 260Z" fill="#b4b6b6" stroke="#6a6c6c" stroke-width="6"/>
<path d="M300 215 L335 200 L350 230 L315 248Z" fill="#d4d6d6" stroke="#777" stroke-width="4"/>
<path d="M268 258 L310 240 L330 275 L290 298Z" fill="#c8caca" stroke="#6a6c6c" stroke-width="5"/>
<path d="M325 330 Q330 280 380 268 Q430 262 440 300 L432 400 Q420 440 370 442 Q325 435 322 400Z" fill="#c6c8c8" stroke="#6a6c6c" stroke-width="6"/>
<path d="M350 300 Q385 280 415 300 L408 400 Q385 425 350 410Z" fill="#eceeee" filter="url(#b3)"/>
<path d="M150 330 L235 372" stroke="#6a6c6c" stroke-width="34" stroke-linecap="round"/><path d="M150 328 L235 370" stroke="#d6d8d8" stroke-width="20" stroke-linecap="round"/>
<path d="M200 310 L250 288 L275 330 L262 372 L212 368Z" fill="#c4c6c6" stroke="#666868" stroke-width="6"/>
<path d="M250 288 L275 330 L262 372 L245 335Z" fill="#9a9c9c"/>
<path d="M285 430 L330 420 L345 460 L300 478Z" fill="#bcbebe" stroke="#666868" stroke-width="6"/>
<path d="M60 440 L205 528" stroke="#7a7c7c" stroke-width="30" stroke-linecap="round"/><path d="M60 437 L205 525" stroke="#cccece" stroke-width="16" stroke-linecap="round"/>
<path d="M70 395 L130 425" stroke="#b8baba" stroke-width="16" stroke-linecap="round"/>
</g>
<g transform="translate(284.5 89.5) scale(1.000) translate(-284.5 -89.5)"><path d="M285 74.5 Q290 75.5 292 79 Q294 85 293.5 90 Q293.5 96 292 99 Q290 103.5 285 104.5 Q281 104.5 278 103 Q274 100.5 273.5 97 Q274 92 276 87 Q278 81 280 77 Q282 74.5 285 74.5Z" fill="#2f2f2f"/><path d="M285.5 77 Q289.5 78 290.8 81 Q292.2 86 291.8 90.5 Q291.6 95.5 290.5 98 Q289 101.5 285 102.5 Q283 100 283.3 95 Q283.5 88 284.3 82 Q284.8 78.5 285.5 77Z" fill="#4b4b4b"/><ellipse cx="289.6" cy="84" rx="1.3" ry="1.6" fill="#bdbdbd"/><ellipse cx="288.3" cy="98.6" rx="1.3" ry="1.6" fill="#bdbdbd"/><path d="M286 88 L289 87 L289.5 94 L286.5 95Z" fill="#333"/></g>
<g transform="translate(285.8 259.7) scale(1.090) translate(-284.5 -89.5)"><path d="M285 74.5 Q290 75.5 292 79 Q294 85 293.5 90 Q293.5 96 292 99 Q290 103.5 285 104.5 Q281 104.5 278 103 Q274 100.5 273.5 97 Q274 92 276 87 Q278 81 280 77 Q282 74.5 285 74.5Z" fill="#2f2f2f"/><path d="M285.5 77 Q289.5 78 290.8 81 Q292.2 86 291.8 90.5 Q291.6 95.5 290.5 98 Q289 101.5 285 102.5 Q283 100 283.3 95 Q283.5 88 284.3 82 Q284.8 78.5 285.5 77Z" fill="#4b4b4b"/><ellipse cx="289.6" cy="84" rx="1.3" ry="1.6" fill="#bdbdbd"/><ellipse cx="288.3" cy="98.6" rx="1.3" ry="1.6" fill="#bdbdbd"/><path d="M286 88 L289 87 L289.5 94 L286.5 95Z" fill="#333"/></g>
<path d="M299.5 97 L324 82.5 L331 83.5 L336 89 L325 103 L319.5 107 L313 106 L307 102 Z" fill="#a4a6a6"/>
<path d="M299.5 97 L324 82.5 L331 83.5 L327 88 L308 100.5 Z" fill="#8f9191"/>
<path d="M313 106 L319.5 107 L325 103 L336 89 L331 88 L321 99 Z" fill="#bfc1c1"/>
<circle cx="306" cy="97.5" r="0.9" fill="#e6e6e6"/><circle cx="327" cy="86" r="0.9" fill="#e6e6e6"/><circle cx="321.5" cy="100" r="1" fill="#ececec"/><circle cx="322.5" cy="91" r="0.8" fill="#ddd"/>
<g transform="translate(220 170) scale(0.2)">
<path d="M126 262 L166 288" stroke="#6e7070" stroke-width="13" stroke-linecap="round"/><path d="M126 261 L166 287" stroke="#d0d2d2" stroke-width="6" stroke-linecap="round"/>
<path d="M165 58 Q178 62 180 76 L176 100 Q165 125 150 142 Q133 165 130 180 L128 230 L136 264 L120 286 L86 284 Q66 268 65 250 L67 198 Q75 165 96 140 Q115 118 124 100 L128 88 Z" fill="#aeb0b0" stroke="#7c7e7e" stroke-width="4"/>
<path d="M150 78 Q140 112 112 142 Q86 172 84 205 L84 270" fill="none" stroke="#e4e6e6" stroke-width="16" filter="url(#b3)"/>
<path d="M172 70 L168 100 Q158 125 142 144 Q124 166 121 182 L119 232 L126 262 L112 280" fill="none" stroke="#8a8c8c" stroke-width="5"/>
<circle cx="158" cy="92" r="4.5" fill="#6e7070"/><circle cx="150" cy="116" r="4.5" fill="#6e7070"/>
<path d="M100 215 V262" stroke="#8e9090" stroke-width="5"/>
</g>
<path d="M238.8 357 Q239 363 235 366.5 Q232 368.5 228 367.5" fill="none" stroke="#6e7070" stroke-width="3.2" stroke-linecap="round"/>
<path d="M238.8 357 Q239 363 235 366.5 Q232 368.5 228 367.5" fill="none" stroke="#bcbebe" stroke-width="1.6" stroke-linecap="round"/>
<path d="M227.5 344.5 L238.8 350.5 L238.8 358 L228.5 352.5Z" fill="#8d8f8f" stroke="#5e6060" stroke-width="0.7"/>
<path d="M239.5 359 L250.5 364.6" stroke="#6e7070" stroke-width="3.6" stroke-linecap="round"/><path d="M239.5 358.8 L250.5 364.4" stroke="#cfd1d1" stroke-width="1.8" stroke-linecap="round"/>
<path d="M247.5 363 L250.8 364.7" stroke="#6e7070" stroke-width="4.6" stroke-linecap="round"/><path d="M247.8 362.9 L250.6 364.4" stroke="#d4d6d6" stroke-width="2.6" stroke-linecap="round"/>
<path d="M296.5 392.3 L303.5 397.6 L315 396.3" fill="none" stroke="#6e7070" stroke-width="3.2" stroke-linecap="round" stroke-linejoin="round"/>
<path d="M296.5 392 L303.5 397.2 L315 395.9" fill="none" stroke="#c4c6c6" stroke-width="1.5" stroke-linecap="round" stroke-linejoin="round"/>
<path d="M21.5 487 L26 481 L30 482 L33 477 L37.5 478.5 L40 474 L45.5 475.5 L47.5 479 L36 487 L31 493.5 L24 492Z" fill="#8c8e8e" stroke="#6c6e6e" stroke-width="0.6"/>
<path d="M26 486 L31 487.5 L33 483" fill="none" stroke="#bcbebe" stroke-width="1"/>
<path d="M35.5 485.5 L53.5 474.2 Q62 473.5 66 480.5 Q69.5 489 63.5 498.5 L44.5 508 Q36 509 31.5 501 Q28 491 35.5 485.5Z" fill="url(#gClamp)"/>
<g transform="translate(38.8 496.8) rotate(-20)"><ellipse rx="8.8" ry="11.6" fill="#a9abab"/><ellipse rx="7.7" ry="10.5" fill="#7b7d7d"/><ellipse cx="2" cy="1.2" rx="5.6" ry="8.4" fill="#909292" filter="url(#b1)"/></g>
<g transform="translate(525 348) scale(0.105)">
<path d="M60 170 L80 100 L150 60 L290 50 L520 85 L620 140 L640 200 L700 240 L720 290 L690 330 L620 340 L590 300 L520 350 L430 400 L240 390 L130 380 L90 370 L60 250Z" fill="#8f9191"/>
<path d="M60 250 L90 370 L130 380 L240 390 L430 400 L520 350 L590 300 L585 275 L510 320 L425 365 L240 355 L120 335 L75 235Z" fill="#787a7a"/>
<path d="M70 170 Q70 230 160 225 Q250 215 255 150 L250 250 Q200 300 120 290 L75 235Z" fill="#858787"/>
<ellipse cx="162" cy="145" rx="92" ry="70" fill="#b4b6b6" transform="rotate(-12 162 145)"/>
<path d="M262 95 Q300 60 345 85 L335 205 L255 215Z" fill="#b2b4b4"/>
<path d="M350 100 Q395 70 445 95 L432 205 L340 210Z" fill="#c3c5c5"/>
<path d="M452 108 Q505 90 555 135 L530 225 L440 203Z" fill="#cdcfcf"/>
<path d="M335 205 L340 210 L432 205 L440 203 L530 225 L520 250 L440 235 L335 240Z" fill="#7c7e7e"/>
<path d="M360 290 L470 250 L525 280 L500 340 L400 352Z" fill="#b6b8b8" stroke="#6e7070" stroke-width="6"/>
<path d="M470 250 L525 280 L500 340 L480 300Z" fill="#9a9c9c"/>
<path d="M600 262 L700 240 L722 290 L690 330 L620 340 L588 300Z" fill="#a2a4a4"/>
<circle cx="664" cy="290" r="18" fill="#dcdcdc" stroke="#777" stroke-width="5"/>
<path d="M190 395 V430 M210 398 V432 M405 405 V445" stroke="#8a8c8c" stroke-width="14"/>
<path d="M60 170 L80 100 L150 60 L290 50 L520 85 L620 140 L640 200" fill="none" stroke="#a8aaaa" stroke-width="6"/>
</g>
<g transform="translate(525 400) scale(0.105)">
<path d="M65 190 L130 95 L250 55 L340 60 L370 110 L640 195 L670 230 L730 260 L740 290 L700 320 L600 325 L560 370 L470 440 L420 450 L230 380 L150 390 L100 380 L70 330Z" fill="#585a5a"/>
<path d="M90 200 L140 125 L245 95 L300 130 L330 155 L355 130 L400 140 L625 212 L600 262 L545 330 L460 400 L425 410 L300 365 L290 290 L130 290 L95 310Z" fill="#676969"/>
<path d="M65 190 L130 95 L250 55 L340 60 L370 110 L640 195 L670 230" fill="none" stroke="#8c8e8e" stroke-width="9" stroke-linejoin="round"/>
<path d="M140 125 L245 95 L330 155 L355 130 L400 140 L625 212" fill="none" stroke="#858787" stroke-width="7" stroke-linejoin="round"/>
<path d="M600 262 L545 330 L460 400 L425 410 L470 440 L560 370 L600 325Z" fill="#4b4d4d"/>
<ellipse cx="212" cy="312" rx="88" ry="44" fill="#fff" transform="rotate(-10 212 312)"/>
<path d="M120 330 L160 300 L200 340 L150 360Z" fill="#fff"/>
<circle cx="290" cy="100" r="15" fill="#fff"/><circle cx="665" cy="295" r="15" fill="#fff"/><circle cx="140" cy="372" r="10" fill="#e8e8e8"/>
</g>
<g transform="translate(480 440) scale(0.19635)">
<path d="M205 340 Q200 300 240 290 L460 300 Q490 330 485 385 Q475 450 400 485 Q320 515 255 480 Q205 440 205 340Z" fill="#e2e2e2"/>
<path d="M240 330 Q260 300 330 300 L440 330 Q440 400 400 440 Q350 480 290 470 Q240 430 240 330Z" fill="#d3d3d3"/>
<path d="M300 300 L360 300 L345 465 L315 450Z" fill="#c6c6c6"/>
<path d="M250 310 L300 300 L315 450 L270 420Z" fill="#dedede"/>
<path d="M385 405 L420 365 L415 440 L395 455Z" fill="#fff"/>
<path d="M233 165 L270 180 L270 312 L233 292Z" fill="#dcdcdc"/>
<path d="M270 180 L470 195 L462 300 L440 420 L410 432 L410 250 L300 240 L270 250Z" fill="#e6e6e6"/>
<path d="M410 250 L462 240 L462 300 L440 420 L410 432Z" fill="#d6d6d6"/>
<path d="M322 200 H392 V226 H322Z" fill="#fafafa"/>
<path d="M230 160 L300 95 L345 100 L345 60 Q350 38 380 35 Q412 38 415 55 L385 85 L385 110 L520 160 L560 135 Q610 130 625 150 Q622 172 590 185 L540 195 L520 185 L470 195 L270 180Z" fill="#e0e0e0"/>
<path d="M230 160 L300 95 L345 100 L385 110 L520 160 L470 195 L270 180Z" fill="#e9e9e9"/>
<ellipse cx="345" cy="160" rx="48" ry="28" fill="#cfcfcf"/><ellipse cx="348" cy="164" rx="32" ry="17" fill="#e4e4e4"/>
<circle cx="380" cy="55" r="8" fill="#fff"/><circle cx="592" cy="152" r="8" fill="#fff"/>
</g>
<g stroke="#1a1a1a" stroke-width="1.3" fill="none">
<path d="M287.3 62.5 V74.5"/><path d="M317 62.5 V86"/>
<path d="M290 84 L305 92.5"/><path d="M288.5 99 L302 106"/>
<path d="M310.5 111.5 L346 131" stroke-dasharray="19 2.5 1.5 2.5"/>
<path d="M306.3 103.5 V133.5" stroke-dasharray="18 2.5 1.5 2.5"/>
<path d="M532 149 V175" stroke-width="1.6" stroke="#333"/>
<path d="M220.8 175.4 L245 187.8" stroke-dasharray="12 2 1.5 2"/>
<path d="M219 220.3 H231.5"/>
<path d="M254.5 229 L280.5 244" stroke-dasharray="14 2 1.5 2"/>
<path d="M296.5 257.3 H310.5"/>
<path d="M273.5 258.5 L263.6 253.5 V372.5 L253.5 367.5" stroke-dasharray="7 2 1.5 2 26 2 1.5 2 26 2 1.5 2 26 2 1.5 2 22 2 1.5 2 30"/>
<path d="M51.8 459 V473.3"/><path d="M67 481.8 L85.6 470.2"/>
<path d="M506 362 H531"/><path d="M506 432.5 H527.5"/>
<path d="M501.8 401.5 L503 417.5"/><path d="M503 417.5 L541 371 V384" stroke-dasharray="30 2 1.5 2 40"/>
<path d="M501.8 474.4 V489"/><path d="M524.2 490.7 L547.7 487.1"/>
</g>
<circle cx="547.7" cy="487.1" r="2.5" fill="#111"/>
<g stroke="#1a1a1a" stroke-width="1.3" fill="#fff"><circle cx="306.2" cy="144.4" r="9.8"/><circle cx="212.2" cy="170" r="9.8"/><circle cx="501.8" cy="391" r="10.4"/></g>
<g stroke="#1a1a1a" stroke-width="1.6" fill="none">
<path d="M659.4 277.7 C664 290 668.5 310 669 331.4 C669.3 345 665 362 657 374.3 C650 383 640 387 627 391.4 C623 393 621.7 395 621.7 399 V547.5 H473 V344.5 H590 C606 344.5 622 344 634.3 340.5 C646 337 654 328 657 317 C660 306 660.5 292 658.3 278"/>
</g>
<g fill="none" stroke="#858787" stroke-width="1.9" stroke-linecap="round" stroke-linejoin="round"><path d="M522.8 485 L523.8 487.3 L516.2 489 L503.1 491.1 Q495.5 493 495.2 497.7 Q496 503.5 501.4 503 L511.9 500.7 L521.5 497.7 Q524.8 496.8 524.4 495.2 Q523.8 493.4 522.4 493.7 L516.2 494.9 L508.8 496.8"/></g>
<g fill="none" stroke="#d4d6d6" stroke-width="0.6" stroke-linecap="round" stroke-linejoin="round"><path d="M516.2 488.7 L503.1 490.8 Q495.3 492.8 495 497.5 M501.4 502.7 L511.9 500.4 L521.5 497.4 M516.2 494.6 L509.5 496.3"/></g>
<g stroke="#1a1a1a" stroke-width="1.2" fill="none"><path d="M721.3 346.4 H791.8 V538.2 H721.3Z"/><path d="M721.3 394.5 H791.8 M721.3 442.8 H791.8 M721.3 489.8 H791.8"/></g>
<g transform="translate(768.0 349.5)"><path d="M-6.0 16 V39.9 Q-6.0 41.9 0 41.9 Q6.0 41.9 6.0 39.9 V16Z" fill="url(#gShaft)"/><path d="M-6.0 22.3 L6.0 20.7" stroke="#7e7e7e" stroke-width="0.8"/><path d="M-6.0 25.5 L6.0 23.9" stroke="#7e7e7e" stroke-width="0.8"/><path d="M-6.0 28.7 L6.0 27.1" stroke="#7e7e7e" stroke-width="0.8"/><path d="M-6.0 31.9 L6.0 30.3" stroke="#7e7e7e" stroke-width="0.8"/><path d="M-6.0 35.1 L6.0 33.5" stroke="#7e7e7e" stroke-width="0.8"/><path d="M-6.0 38.3 L6.0 36.7" stroke="#7e7e7e" stroke-width="0.8"/><ellipse cx="0" cy="14" rx="11.9" ry="5" fill="#b4b4b4"/><ellipse cx="0" cy="13" rx="11.3" ry="4.4" fill="#8f8f8f"/><path d="M-10 5 L-9.2 13 L-4 16 L5 16 L9.6 12.6 L9.8 5.8 Z" fill="#8a8a8a"/><path d="M-4 10.5 L-4 16 L5 16 L5 10.8Z" fill="#a9a9a9"/><path d="M-10 5 L-5.1 0 L4.9 0 L9.8 5.8 L5 10.8 L-4 10.5Z" fill="#a4a4a4"/></g>
<g transform="translate(766.5 447.2)"><path d="M-5.9 16 V37.3 Q-5.9 39.3 0 39.3 Q5.9 39.3 5.9 37.3 V16Z" fill="url(#gShaft)"/><path d="M-5.9 22.3 L5.9 20.7" stroke="#7e7e7e" stroke-width="0.8"/><path d="M-5.9 25.5 L5.9 23.9" stroke="#7e7e7e" stroke-width="0.8"/><path d="M-5.9 28.7 L5.9 27.1" stroke="#7e7e7e" stroke-width="0.8"/><path d="M-5.9 31.9 L5.9 30.3" stroke="#7e7e7e" stroke-width="0.8"/><path d="M-5.9 35.1 L5.9 33.5" stroke="#7e7e7e" stroke-width="0.8"/><ellipse cx="0" cy="14" rx="11.9" ry="5" fill="#b4b4b4"/><ellipse cx="0" cy="13" rx="11.3" ry="4.4" fill="#8f8f8f"/><path d="M-10 5 L-9.2 13 L-4 16 L5 16 L9.6 12.6 L9.8 5.8 Z" fill="#8a8a8a"/><path d="M-4 10.5 L-4 16 L5 16 L5 10.8Z" fill="#a9a9a9"/><path d="M-10 5 L-5.1 0 L4.9 0 L9.8 5.8 L5 10.8 L-4 10.5Z" fill="#a4a4a4"/></g>
<g>
<ellipse cx="767" cy="426" rx="18.6" ry="8.6" fill="#b0b0b0"/>
<ellipse cx="767" cy="424.6" rx="18" ry="8" fill="#8e8e8e"/>
<path d="M750.5 413 L752 424 L760 430 L774.5 430 L782.8 424 L783.5 413Z" fill="#8c8c8c"/>
<path d="M760 420 L760 430 L774.5 430 L774.5 420Z" fill="#a6a6a6"/>
<path d="M750.5 413 L759.5 403.5 L775 403.3 L783.5 413 L774.5 420.5 L760 420.5Z" fill="#a6a6a6"/>
<ellipse cx="767" cy="411.5" rx="7.6" ry="5" fill="#7a7a7a"/><ellipse cx="767.4" cy="412.6" rx="6" ry="3.6" fill="#969696"/>
</g>
<path d="M727.6 527.4 H765.3 V534 H727.6Z" fill="#111"/>
<path d="M786 504.3 V509.8 L765.3 522.5 L757 522.5 Z" fill="#111"/>
<path d="M727.6 506.9 L735.7 511.8 L767.9 494.6 L786 504.3 L757 522.5 L765.3 527.4 H727.6Z" fill="#fff" stroke="#111" stroke-width="1.2" stroke-linejoin="miter"/>
</g>
<g><text x="287.5" y="59.6" font-size="18.5" font-weight="bold" fill="#111" stroke="#111" stroke-width="0.45" text-anchor="middle">3</text>
<text x="317.5" y="59.6" font-size="18.5" font-weight="bold" fill="#111" stroke="#111" stroke-width="0.45" text-anchor="middle">6</text>
<text x="531.3" y="146.0" font-size="18.5" font-weight="bold" fill="#111" stroke="#111" stroke-width="0.45" text-anchor="middle">1</text>
<text x="212.5" y="227.0" font-size="18.5" font-weight="bold" fill="#111" stroke="#111" stroke-width="0.45" text-anchor="middle">4</text>
<text x="316.0" y="264.4" font-size="18.5" font-weight="bold" fill="#111" stroke="#111" stroke-width="0.45" text-anchor="middle">3</text>
<text x="51.8" y="456.2" font-size="18.5" font-weight="bold" fill="#111" stroke="#111" stroke-width="0.45" text-anchor="middle">2</text>
<text x="500.0" y="368.8" font-size="18.5" font-weight="bold" fill="#111" stroke="#111" stroke-width="0.45" text-anchor="middle">8</text>
<text x="496.0" y="440.8" font-size="18.5" font-weight="bold" fill="#111" stroke="#111" stroke-width="0.45" text-anchor="middle">11</text>
<text x="501.6" y="471.9" font-size="18.5" font-weight="bold" fill="#111" stroke="#111" stroke-width="0.45" text-anchor="middle">9</text>
<text x="736.0" y="364.6" font-size="18.5" font-weight="bold" fill="#111" stroke="#111" stroke-width="0.45" text-anchor="middle">10</text>
<text x="735.6" y="412.2" font-size="18.5" font-weight="bold" fill="#111" stroke="#111" stroke-width="0.45" text-anchor="middle">7</text>
<text x="735.3" y="460.2" font-size="18.5" font-weight="bold" fill="#111" stroke="#111" stroke-width="0.45" text-anchor="middle">5</text>
<text x="306.2" y="149.7" font-size="15.0" font-weight="bold" fill="#111" stroke="#111" stroke-width="0.30" text-anchor="middle">7</text>
<text x="212.2" y="175.3" font-size="15.0" font-weight="bold" fill="#111" stroke="#111" stroke-width="0.30" text-anchor="middle">5</text>
<text x="501.8" y="396.2" font-size="14.5" font-weight="bold" fill="#111" stroke="#111" stroke-width="0.30" text-anchor="middle">10</text>
<text x="759.3" y="553.2" font-size="12.2" font-weight="normal" fill="#4a4a4a" stroke="#4a4a4a" stroke-width="0.00" text-anchor="middle">469671</text></g>
</svg>
</body></html>
